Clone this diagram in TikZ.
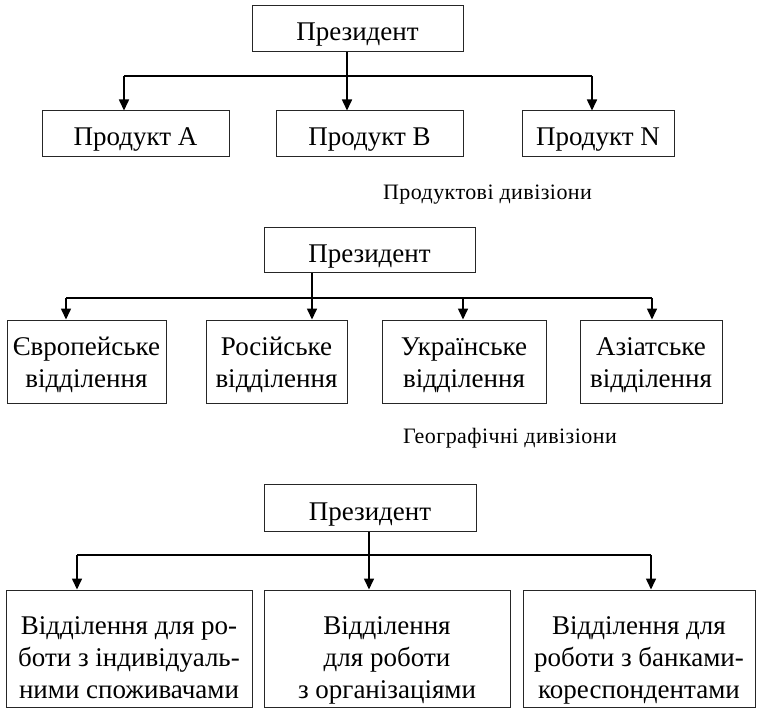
\documentclass[tikz,border=0pt]{standalone}
\usepackage{fontspec}
\setmainfont{Liberation Serif}
\usetikzlibrary{arrows.meta}
\begin{document}
\begin{tikzpicture}[x=1pt,y=-1pt,
  box/.style={draw=black!85,line width=1pt,inner sep=0pt,align=center,
    font=\fontsize{27}{32}\selectfont},
  onebox/.style={box,text height=31pt,text depth=7pt},
  bus/.style={line width=1.1pt},
  arr/.style={line width=1.6pt,-{Triangle[length=11pt,width=10pt]}},
  captext/.style={inner sep=0pt,anchor=base,
    font=\fontsize{22}{26}\selectfont\addfontfeatures{LetterSpace=2}}]
\useasboundingbox (0,0) rectangle (762,708);

% ---- product divisions ----
\node[onebox,minimum width=211pt,minimum height=46pt] (p1) at (357.5,29) {Президент};
\node[onebox,minimum width=187pt,minimum height=46pt] (a) at (135.5,134) {Продукт A};
\node[onebox,minimum width=187pt,minimum height=46pt] (b) at (369.5,134) {Продукт B};
\node[onebox,minimum width=152pt,minimum height=46pt] (n) at (598,134) {Продукт N};
\coordinate (j1a) at (124,76);
\coordinate (j1b) at (347,76);
\coordinate (j1n) at (592,76);
\draw[bus] (j1a) -- (j1n);
\draw[arr] (j1b |- p1.south) -- (j1b |- b.north);
\draw[arr] (j1a) -- (j1a |- a.north);
\draw[arr] (j1n) -- (j1n |- n.north);
\node[captext] (c1) at (487.5,200) {Продуктові дивізіони};

% ---- geographic divisions ----
\node[onebox,minimum width=211pt,minimum height=45pt] (p2) at (369.5,250.5) {Президент};
\node[box,minimum width=159pt,minimum height=83pt] (e) at (86.5,361.5)
  {\rule{0pt}{26pt}Європейське\\відділення\rule[-7pt]{0pt}{7pt}};
\node[box,minimum width=141pt,minimum height=83pt] (r) at (276.5,361.5)
  {\rule{0pt}{26pt}Російське\\відділення\rule[-7pt]{0pt}{7pt}};
\node[box,minimum width=164pt,minimum height=83pt] (u) at (464,361.5)
  {\rule{0pt}{26pt}Українське\\відділення\rule[-7pt]{0pt}{7pt}};
\node[box,minimum width=142pt,minimum height=83pt] (s) at (651,361.5)
  {\rule{0pt}{26pt}Азіатське\\відділення\rule[-7pt]{0pt}{7pt}};
\coordinate (j2e) at (66,298);
\coordinate (j2r) at (312,298);
\coordinate (j2u) at (463,298);
\coordinate (j2s) at (652,298);
\draw[bus] (j2e) -- (j2s);
\draw[arr] (j2r |- p2.south) -- (j2r |- r.north);
\draw[arr] (j2e) -- (j2e |- e.north);
\draw[arr] (j2u) -- (j2u |- u.north);
\draw[arr] (j2s) -- (j2s |- s.north);
\node[captext] (c2) at (510,443) {Географічні дивізіони};

% ---- customer divisions ----
\node[onebox,minimum width=212pt,minimum height=47pt] (p3) at (370,508) {Президент};
\node[box,minimum width=246pt,minimum height=117pt] (l) at (129,648.5)
  {\rule{0pt}{42pt}Відділення для ро-\\боти з індивідуаль-\\ними споживачами\rule[-7pt]{0pt}{7pt}};
\node[box,minimum width=246pt,minimum height=117pt] (m) at (387,648.5)
  {\rule{0pt}{42pt}Відділення\\для роботи\\з організаціями\rule[-7pt]{0pt}{7pt}};
\node[box,minimum width=232pt,minimum height=117pt] (k) at (639,648.5)
  {\rule{0pt}{42pt}Відділення для\\роботи з банками-\\кореспондентами\rule[-7pt]{0pt}{7pt}};
\coordinate (j3l) at (77,555);
\coordinate (j3m) at (369,555);
\coordinate (j3k) at (651,555);
\draw[bus] (j3l) -- (j3k);
\draw[arr] (j3m |- p3.south) -- (j3m |- m.north);
\draw[arr] (j3l) -- (j3l |- l.north);
\draw[arr] (j3k) -- (j3k |- k.north);
\end{tikzpicture}
\end{document}
